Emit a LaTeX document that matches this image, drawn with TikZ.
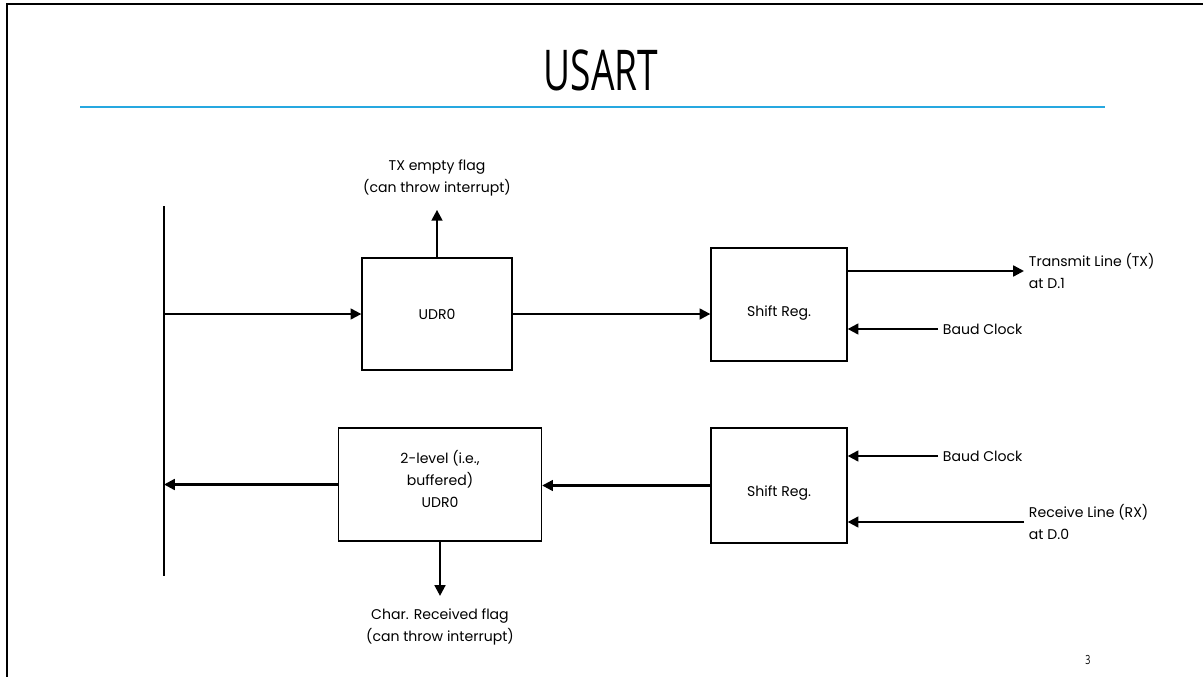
\documentclass[tikz,border=0pt]{standalone}
\usepackage{fontspec}
\setmainfont{Poppins}
\newfontfamily\titlefont{Open Sans}
\usetikzlibrary{arrows.meta}
\definecolor{slideblue}{RGB}{38,168,224}

\tikzset{
  box/.style={draw, line width=0.9pt},
  lbl/.style={align=center, font=\fontsize{10}{15.5}\selectfont},
  flow/.style={line width=1.6pt, -{Triangle[length=0.27cm,width=0.27cm]}},
}

\begin{document}
\begin{tikzpicture}[x=0.025cm, y=-0.025cm]
  %%%%% frame %%%%%
  \useasboundingbox (0,0) rectangle (1203,677);
  \draw[line width=1.6pt] (7,677) -- (7,4) -- (1203,4);

  %%%%% title %%%%%
  \node (title) at (601,70) {\titlefont\fontsize{40}{40}\selectfont\scalebox{0.66}[1]{USART}};
  \draw[slideblue, line width=0.8pt] (80,107) -- (1105,107);

  %%%%% data bus %%%%%
  \coordinate (bustop) at (164,206);
  \coordinate (busbot) at (164,576);
  \draw[line width=2.1pt] (bustop) -- (busbot);

  %%%%% transmit side %%%%%
  \node[box, minimum width=3.75cm, minimum height=2.8cm] (udr) at (437,314) {};
  \node[lbl] (udrtxt) at (udr) {UDR0};
  \node[box, minimum width=3.4cm, minimum height=2.825cm] (shifttx) at (779,304.5) {};
  \node[lbl, yshift=-0.21cm] (shifttxtxt) at (shifttx) {Shift Reg.};
  \node[lbl] (txflag) at (437,178) {TX empty flag\\(can throw interrupt)};
  \node[lbl, anchor=west, align=left] (txline) at (1024,271) {Transmit Line (TX)\\at D.1};
  \node[lbl, anchor=west] (baudtx) at (938,329) {Baud Clock};

  \draw[flow] (bustop |- udr.west) -- (udr.west);
  \draw[flow, shorten >=0.22cm] (udr.north) -- (udr.north |- txflag.south);
  \draw[flow] (udr.east) -- (udr.east -| shifttx.west);
  \draw[flow] (txline.west -| shifttx.east) -- (txline.west);
  \draw[flow] (baudtx.west) -- (baudtx.west -| shifttx.east);

  %%%%% receive side %%%%%
  \node[box, minimum width=5.075cm, minimum height=2.825cm] (rxbuf) at (440,484.5) {};
  \node[lbl, yshift=0.14cm] (rxbuftxt) at (rxbuf) {2-level (i.e.,\\buffered)\\UDR0};
  \node[box, minimum width=3.4cm, minimum height=2.875cm] (shiftrx) at (779,485.5) {};
  \node[lbl, yshift=-0.18cm] (shiftrxtxt) at (shiftrx) {Shift Reg.};
  \node[lbl] (rxflag) at (440,627) {Char. Received flag\\(can throw interrupt)};
  \node[lbl, anchor=west, align=left] (rxline) at (1024,522) {Receive Line (RX)\\at D.0};
  \node[lbl, anchor=west] (baudrx) at (938,456) {Baud Clock};

  \draw[flow] (baudrx.west) -- (baudrx.west -| shiftrx.east);
  \draw[flow] (rxline.west) -- (rxline.west -| shiftrx.east);
  \draw[flow] (shiftrx.west) -- (shiftrx.west -| rxbuf.east);
  \draw[flow] (rxbuf.west) -- (rxbuf.west -| bustop);
  \draw[flow, shorten >=0.2cm] (rxbuf.south) -- (rxbuf.south |- rxflag.north);

  %%%%% page number %%%%%
  \node (pagenum) at (1088,660) {\titlefont\fontsize{9}{9}\selectfont\scalebox{0.7}[1]{3}};
\end{tikzpicture}
\end{document}
